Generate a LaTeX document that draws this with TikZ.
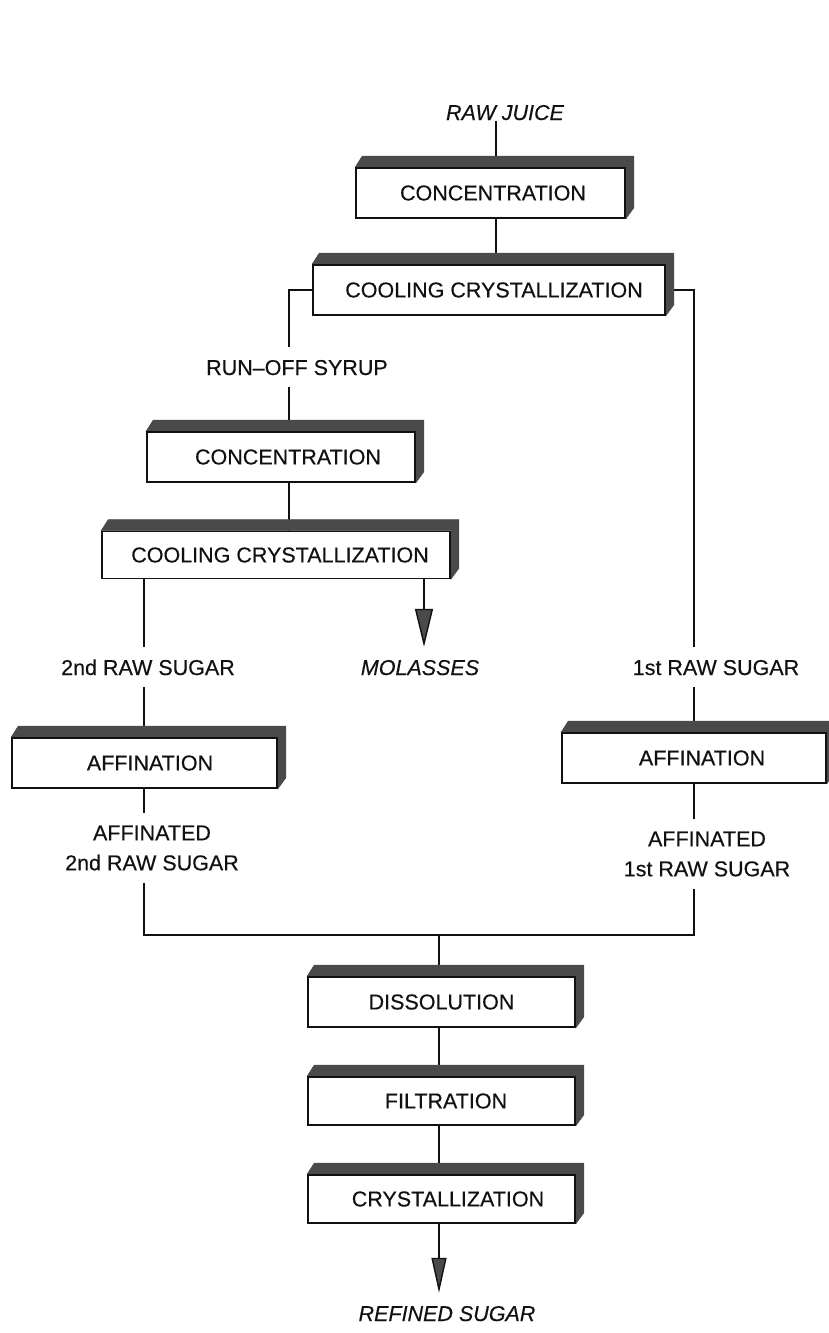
\documentclass[tikz,border=0pt]{standalone}
\usepackage{fontspec}
\setmainfont{Liberation Sans}[FakeBold=0.35]
\usetikzlibrary{arrows.meta,calc}
\pgfdeclarelayer{bg}
\pgfdeclarelayer{mid}
\pgfsetlayers{bg,mid,main}
\definecolor{stripc}{HTML}{4A4A4A}
\definecolor{inkc}{HTML}{111111}
\newcommand{\sh}[1]{\hspace*{#1pt}}
\begin{document}
\begin{tikzpicture}[x=1pt,y=-1pt,
  every node/.style={font=\fontsize{21.5}{30}\selectfont, text=inkc},
  proc/.style={draw=inkc, line width=1.6pt, fill=white, inner sep=0pt, minimum height=50pt},
  lbl/.style={inner xsep=2pt, inner ysep=12pt, text height=16pt, text depth=0pt},
  ilbl/.style={lbl, font=\fontsize{21.5}{30}\selectfont\itshape},
  mlbl/.style={inner xsep=2pt, inner ysep=12pt, align=center},
  conn/.style={draw=inkc, line width=1.4pt},
  strip/.style={fill=stripc, draw=stripc, line width=0.6pt, line join=round},
  bigarrow/.style={conn, -{Triangle[length=38pt,width=18pt,fill=stripc]}},
  smallarrow/.style={conn, -{Triangle[length=35pt,width=15pt,fill=stripc]}}]
\useasboundingbox (0,0) rectangle (829,1333);

% process boxes
\node[proc, minimum width=269pt] (c1) at (490.5,193) {\sh{5}CONCENTRATION};
\node[proc, minimum width=352pt] (c2) at (489,290) {\sh{10}COOLING CRYSTALLIZATION};
\node[proc, minimum width=268pt] (c3) at (281,457) {\sh{14}CONCENTRATION};
\node[proc, minimum width=348pt, minimum height=47pt] (c4) at (276,555) {\sh{8}COOLING CRYSTALLIZATION};
\node[proc, minimum width=265pt] (a1) at (144.5,763) {\sh{11}AFFINATION};
\node[proc, minimum width=264pt] (a2) at (694,758) {\sh{16}AFFINATION};
\node[proc, minimum width=267pt] (d) at (441.5,1002) {DISSOLUTION};
\node[proc, minimum width=267pt, minimum height=48pt] (f) at (441.5,1101) {\sh{9}FILTRATION};
\node[proc, minimum width=267pt, minimum height=48pt] (cr) at (441.5,1199) {\sh{13}CRYSTALLIZATION};

% labels
\node[ilbl] (rj) at (505,112) {RAW JUICE};
\node[lbl] (rs) at (297,367) {RUN--OFF SYRUP};
\node[lbl] (s2) at (148,667) {2nd RAW SUGAR};
\node[ilbl] (mol) at (420,667) {MOLASSES};
\node[lbl] (s1) at (716,667) {1st RAW SUGAR};
\node[mlbl] (af2) at (152,848) {AFFINATED\\2nd RAW SUGAR};
\node[mlbl] (af1) at (707,854) {AFFINATED\\1st RAW SUGAR};
\node[ilbl] (rf) at (447,1313) {REFINED SUGAR};

% reference coordinates for the connector lines
\coordinate (j0) at (496,121);
\coordinate (l0) at (289,0);
\coordinate (m0) at (144,0);
\coordinate (mo) at (424,0);
\coordinate (r0) at (694,0);
\coordinate (jn) at (439,935);

% 3D strips
\begin{pgfonlayer}{mid}
\foreach \n in {c1,c2,c3,c4,a1,a2,d,f,cr}{
  \path[strip] (\n.north west) -- ++(7,-11) -- ($(\n.north east)+(8,-11)$)
    -- ($(\n.south east)+(8,-11)$) -- (\n.south east) -- (\n.north east) -- cycle;
}
\end{pgfonlayer}

% connectors
\begin{pgfonlayer}{bg}
\draw[conn] (j0) -- (j0 |- c1.north);
\draw[conn] (j0 |- c1.south) -- (j0 |- c2.north);
\draw[conn] (c2.west) -- (c2.west -| l0) -- (l0 |- rs.north);
\draw[conn] (l0 |- rs.south) -- (l0 |- c3.north);
\draw[conn] (l0 |- c3.south) -- (l0 |- c4.north);
\draw[conn] (m0 |- c4.south) -- (m0 |- s2.north);
\draw[conn] (m0 |- s2.south) -- (m0 |- a1.north);
\draw[conn] (m0 |- a1.south) -- (m0 |- af2.north);
\draw[conn] (m0 |- af2.south) |- (jn);
\draw[conn] (c2.east) -- (c2.east -| r0) -- (r0 |- s1.north);
\draw[conn] (r0 |- s1.south) -- (r0 |- a2.north);
\draw[conn] (r0 |- a2.south) -- (r0 |- af1.north);
\draw[conn] (r0 |- af1.south) |- (jn);
\draw[conn] (jn) -- (jn |- d.north);
\draw[conn] (jn |- d.south) -- (jn |- f.north);
\draw[conn] (jn |- f.south) -- (jn |- cr.north);
\draw[bigarrow] (mo |- c4.south) -- (mo |- mol.north);
\draw[smallarrow] (jn |- cr.south) -- (jn |- rf.north);
\end{pgfonlayer}
\end{tikzpicture}
\end{document}
